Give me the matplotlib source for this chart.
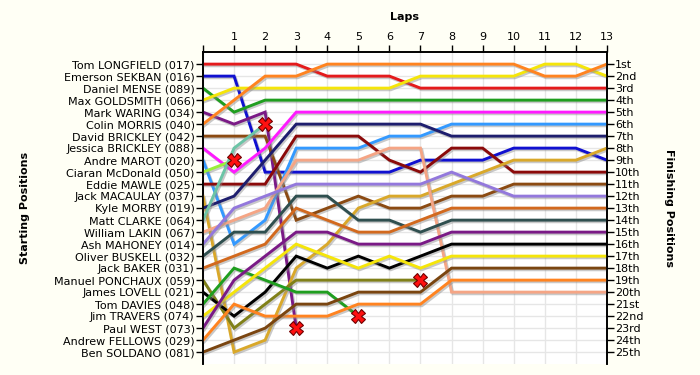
import matplotlib
matplotlib.use('Agg')
import matplotlib.pyplot as plt
import matplotlib.patheffects as pe

drivers = ['Tom LONGFIELD (017)', 'Emerson SEKBAN (016)', 'Daniel MENSE (089)',
           'Max GOLDSMITH (066)', 'Mark WARING (034)', 'Colin MORRIS (040)',
           'David BRICKLEY (042)', 'Jessica BRICKLEY (088)', 'Andre MAROT (020)',
           'Ciaran McDonald (050)', 'Eddie MAWLE (025)', 'Jack MACAULAY (037)',
           'Kyle MORBY (019)', 'Matt CLARKE (064)', 'William LAKIN (067)',
           'Ash MAHONEY (014)', 'Oliver BUSKELL (032)', 'Jack BAKER (031)',
           'Manuel PONCHAUX (059)', 'James LOVELL (021)', 'Tom DAVIES (048)',
           'Jim TRAVERS (074)', 'Paul WEST (073)', 'Andrew FELLOWS (029)',
           'Ben SOLDANO (081)']

# position at lap 0, 1, 2 ... (list ends where the driver stops)
positions = [
    [1, 1, 1, 1, 2, 2, 2, 3, 3, 3, 3, 3, 3, 3],
    [2, 2, 10, 10, 10, 10, 10, 9, 9, 9, 8, 8, 8, 9],
    [3, 5, 4, 4, 4, 4, 4, 4, 4, 4, 4, 4, 4, 4],
    [4, 3, 3, 3, 3, 3, 3, 2, 2, 2, 2, 1, 1, 2],
    [5, 6, 5, 23],
    [6, 4, 2, 2, 1, 1, 1, 1, 1, 1, 1, 2, 2, 1],
    [7, 7, 7, 14, 13, 12, 13, 13, 12, 12, 11, 11, 11, 11],
    [8, 10, 8, 5, 5, 5, 5, 5, 5, 5, 5, 5, 5, 5],
    [9, 16, 14, 8, 8, 8, 7, 7, 6, 6, 6, 6, 6, 6],
    [10, 9],
    [11, 11, 11, 7, 7, 7, 9, 10, 8, 8, 10, 10, 10, 10],
    [12, 25, 24, 18, 16, 13, 12, 12, 11, 10, 9, 9, 9, 8],
    [13, 12, 9, 6, 6, 6, 6, 6, 7, 7, 7, 7, 7, 7],
    [14, 8, 6],
    [15, 14, 13, 9, 9, 9, 8, 8, 20, 20, 20, 20, 20, 20],
    [16, 13, 12, 11, 11, 11, 11, 11, 10, 11, 12, 12, 12, 12],
    [17, 15, 15, 12, 12, 14, 14, 15, 14, 14, 14, 14, 14, 14],
    [18, 17, 16, 13, 14, 15, 15, 14, 13, 13, 13, 13, 13, 13],
    [19, 23, 21, 19, 19, 19, 19, 19],
    [20, 22, 20, 17, 18, 17, 18, 17, 16, 16, 16, 16, 16, 16],
    [21, 18, 19, 20, 20, 22],
    [22, 20, 18, 16, 17, 18, 17, 18, 17, 17, 17, 17, 17, 17],
    [23, 19, 17, 15, 15, 16, 16, 16, 15, 15, 15, 15, 15, 15],
    [24, 21, 22, 22, 22, 21, 21, 21, 19, 19, 19, 19, 19, 19],
    [25, 24, 23, 21, 21, 20, 20, 20, 18, 18, 18, 18, 18, 18],
]

colors = ['#e41a1c', '#1010d0', '#1f9e1f', '#f5e50a', '#7a1a86', '#ff8320',
          '#8b4a12', '#ff1aff', '#3399ff', '#99f03a', '#8b0a0a', '#d9a82a',
          '#1e1e6e', '#6cc4a6', '#f5a585', '#9378dc', '#2f4f4f', '#d2691e',
          '#808018', '#000000', '#1f9e1f', '#f5e50a', '#7a1a86', '#ff8320',
          '#7a4510']

retired = [False, False, False, False, True, False, False, False, False, True,
           False, False, False, True, False, False, False, False, True, False,
           True, False, False, False, False]

n_laps = 13
finish_labels = ['1st', '2nd', '3rd'] + ['%dth' % i for i in range(4, 21)] + \
                ['21st', '22nd', '23rd', '24th', '25th']

fig = plt.figure(figsize=(7, 3.75), dpi=100, facecolor='#fffff5')
ax = fig.add_axes([0.29, 0.029, 0.577, 0.832])
ax.set_facecolor('white')

shadow = [pe.SimpleLineShadow(offset=(1, -1.2), shadow_color='#888888', alpha=0.45),
          pe.Normal()]

for i, pos in enumerate(positions):
    laps = list(range(len(pos)))
    ax.plot(laps, pos, color=colors[i], lw=2.1, solid_joinstyle='miter',
            path_effects=shadow, zorder=3)
    if retired[i]:
        ax.plot(laps[-1], pos[-1], marker='X', markersize=10,
                markerfacecolor='#ff1010', markeredgecolor='#700000',
                markeredgewidth=0.8, zorder=5)

ax.set_xlim(0, n_laps)
ax.set_ylim(26, 0)

ax.set_xticks(range(0, n_laps + 1))
ax.set_xticklabels([''] + [str(i) for i in range(1, n_laps + 1)])
ax.xaxis.tick_top()
ax.xaxis.set_label_position('top')
ax.set_xlabel('Laps', fontsize=8, fontweight='bold', labelpad=9)

ax.set_yticks(range(1, 26))
ax.set_yticklabels(drivers)
ax.set_ylabel('Starting Positions', fontsize=8, fontweight='bold')
ax.yaxis.set_label_coords(-0.428, 0.5)

ax2 = ax.twinx()
ax2.set_ylim(26, 0)
ax2.set_yticks(range(1, 26))
ax2.set_yticklabels(finish_labels)
ax2.set_ylabel('Finishing Positions', fontsize=8, fontweight='bold',
               rotation=270, va='center')
ax2.yaxis.set_label_coords(1.153, 0.5)

for a in (ax, ax2):
    a.tick_params(axis='both', labelsize=8, length=5, width=1,
                  colors='black', pad=1)
    a.spines['bottom'].set_visible(False)
    for s in ('top', 'left', 'right'):
        a.spines[s].set_linewidth(1.2)
ax.tick_params(axis='x', length=5, pad=2)
ax.tick_params(axis='x', which='both', bottom=False)

ax.grid(True, color='#e6e6e6', lw=1)
ax.set_axisbelow(True)

fig.savefig('out.png', dpi=100, facecolor=fig.get_facecolor())
